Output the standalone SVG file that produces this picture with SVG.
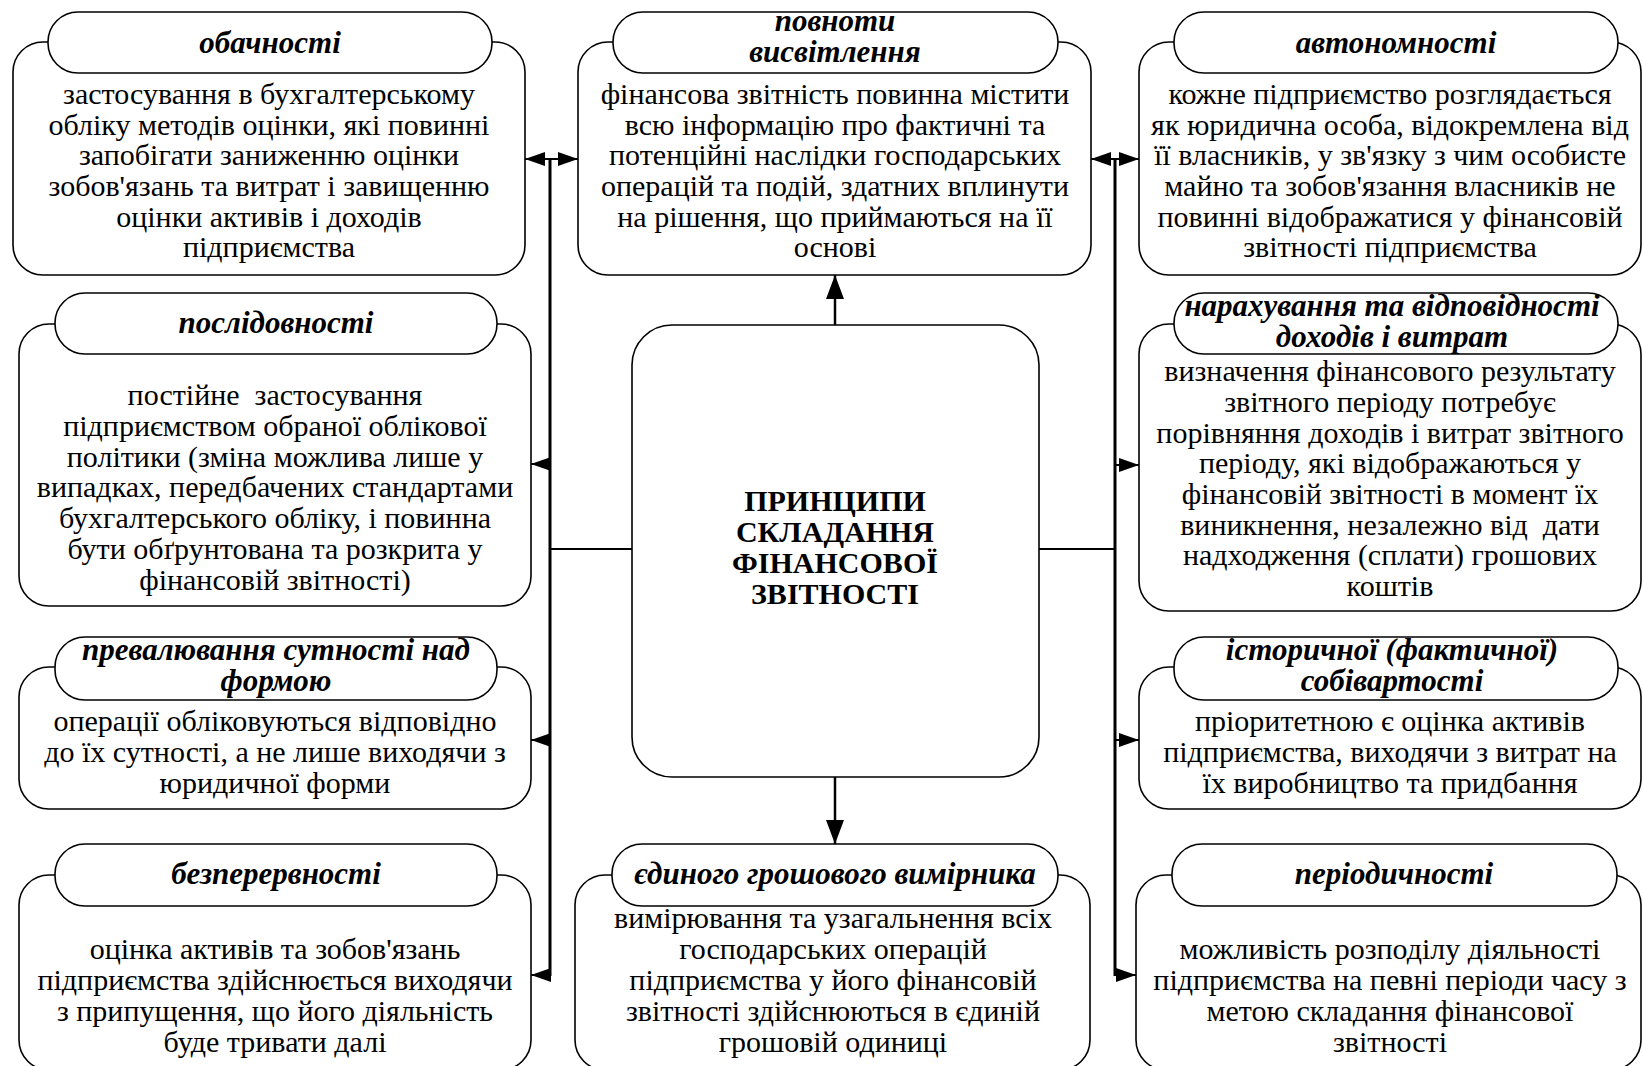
<svg xmlns="http://www.w3.org/2000/svg" width="1643" height="1066" viewBox="0 0 1643 1066">
<style>
.body{fill:#fff;stroke:#000;stroke-width:1.6}
.pill{fill:#fff;stroke:#000;stroke-width:1.6}
.hd{font-family:"Liberation Serif","Times New Roman",serif;font-size:31px;font-weight:bold;font-style:italic;text-anchor:middle;fill:#000}
.tx{font-family:"Liberation Serif","Times New Roman",serif;font-size:30px;text-anchor:middle;fill:#000;white-space:pre}
.ct{font-family:"Liberation Serif","Times New Roman",serif;font-size:30px;font-weight:bold;text-anchor:middle;fill:#000}
.bus{stroke:#000;stroke-width:3;fill:none}
.ln{stroke:#000;stroke-width:2;fill:none}
.ar{stroke:#000;stroke-width:2;fill:none;marker-end:url(#ah)}
.arb{stroke:#000;stroke-width:2.5;fill:none;marker-end:url(#ahb)}
</style>
<defs>
<marker id="ah" markerUnits="userSpaceOnUse" viewBox="0 0 20 14" markerWidth="20" markerHeight="14" refX="20" refY="7" orient="auto"><path d="M0,0 L20,7 L0,14 z" fill="#000"/></marker>
<marker id="ahb" markerUnits="userSpaceOnUse" viewBox="0 0 24 18" markerWidth="24" markerHeight="18" refX="24" refY="9" orient="auto"><path d="M0,0 L24,9 L0,18 z" fill="#000"/></marker>
</defs>
<rect width="1643" height="1066" fill="#fff"/>

<g id="connectors">
<line class="bus" x1="550" y1="159" x2="550" y2="976"/>
<line class="ar" x1="550" y1="159" x2="525" y2="159"/>
<line class="ar" x1="550" y1="159" x2="578" y2="159"/>
<line class="ar" x1="550" y1="464" x2="531" y2="464"/>
<line class="ar" x1="550" y1="740" x2="531" y2="740"/>
<line class="ar" x1="550" y1="975" x2="531" y2="975"/>
<line class="ln" x1="632" y1="549" x2="550" y2="549"/>
<line class="bus" x1="1115" y1="159" x2="1115" y2="976"/>
<line class="ar" x1="1115" y1="159" x2="1091" y2="159"/>
<line class="ar" x1="1115" y1="159" x2="1139" y2="159"/>
<line class="ar" x1="1115" y1="465" x2="1139" y2="465"/>
<line class="ar" x1="1115" y1="740" x2="1139" y2="740"/>
<line class="ar" x1="1115" y1="975" x2="1136" y2="975"/>
<line class="ln" x1="1039" y1="549" x2="1115" y2="549"/>
<line class="arb" x1="835" y1="325" x2="835" y2="275"/>
<line class="arb" x1="835" y1="777" x2="835" y2="844"/>
</g>

<g id="node-center">
<rect class="body" x="632" y="325" width="407" height="452" rx="40"/>
<text class="ct"><tspan x="835" y="511">ПРИНЦИПИ</tspan><tspan x="835" y="542">СКЛАДАННЯ</tspan><tspan x="835" y="573">ФІНАНСОВОЇ</tspan><tspan x="835" y="604">ЗВІТНОСТІ</tspan></text>
</g>

<g id="node-obachnosti">
<rect class="body" x="13" y="42" width="512" height="233" rx="30"/>
<rect class="pill" x="48" y="12" width="444" height="61" rx="30"/>
<text class="hd" x="270" y="53">обачності</text>
<text class="tx"><tspan x="269" y="104">застосування в бухгалтерському</tspan><tspan x="269" y="135">обліку методів оцінки, які повинні</tspan><tspan x="269" y="165">запобігати заниженню оцінки</tspan><tspan x="269" y="196">зобов'язань та витрат і завищенню</tspan><tspan x="269" y="227">оцінки активів і доходів</tspan><tspan x="269" y="257">підприємства</tspan></text>
</g>

<g id="node-povnoty">
<rect class="body" x="578" y="42" width="513" height="233" rx="30"/>
<rect class="pill" x="613" y="12" width="445" height="61" rx="30"/>
<text class="hd"><tspan x="835" y="31">повноти</tspan><tspan x="835" y="62">висвітлення</tspan></text>
<text class="tx"><tspan x="835" y="104">фінансова звітність повинна містити</tspan><tspan x="835" y="135">всю інформацію про фактичні та</tspan><tspan x="835" y="165">потенційні наслідки господарських</tspan><tspan x="835" y="196">операцій та подій, здатних вплинути</tspan><tspan x="835" y="227">на рішення, що приймаються на її</tspan><tspan x="835" y="257">основі</tspan></text>
</g>

<g id="node-avtonomnosti">
<rect class="body" x="1139" y="42" width="502" height="233" rx="30"/>
<rect class="pill" x="1174" y="12" width="444" height="61" rx="30"/>
<text class="hd" x="1396" y="53">автономності</text>
<text class="tx"><tspan x="1390" y="104">кожне підприємство розглядається</tspan><tspan x="1390" y="135">як юридична особа, відокремлена від</tspan><tspan x="1390" y="165">її власників, у зв'язку з чим особисте</tspan><tspan x="1390" y="196">майно та зобов'язання власників не</tspan><tspan x="1390" y="227">повинні відображатися у фінансовій</tspan><tspan x="1390" y="257">звітності підприємства</tspan></text>
</g>

<g id="node-poslidovnosti">
<rect class="body" x="19" y="324" width="512" height="282" rx="30"/>
<rect class="pill" x="55" y="293" width="442" height="61" rx="30"/>
<text class="hd" x="276" y="333">послідовності</text>
<text class="tx"><tspan x="275" y="405">постійне  застосування</tspan><tspan x="275" y="436">підприємством обраної облікової</tspan><tspan x="275" y="467">політики (зміна можлива лише у</tspan><tspan x="275" y="497">випадках, передбачених стандартами</tspan><tspan x="275" y="528">бухгалтерського обліку, і повинна</tspan><tspan x="275" y="559">бути обґрунтована та розкрита у</tspan><tspan x="275" y="590">фінансовій звітності)</tspan></text>
</g>

<g id="node-narakhuvannia">
<rect class="body" x="1139" y="324" width="502" height="287" rx="30"/>
<rect class="pill" x="1174" y="293" width="444" height="61" rx="30"/>
<text class="hd"><tspan x="1392" y="316">нарахування та відповідності</tspan><tspan x="1392" y="347">доходів і витрат</tspan></text>
<text class="tx"><tspan x="1390" y="381">визначення фінансового результату</tspan><tspan x="1390" y="412">звітного періоду потребує</tspan><tspan x="1390" y="443">порівняння доходів і витрат звітного</tspan><tspan x="1390" y="473">періоду, які відображаються у</tspan><tspan x="1390" y="504">фінансовій звітності в момент їх</tspan><tspan x="1390" y="535">виникнення, незалежно від  дати</tspan><tspan x="1390" y="565">надходження (сплати) грошових</tspan><tspan x="1390" y="596">коштів</tspan></text>
</g>

<g id="node-prevaliuvannia">
<rect class="body" x="19" y="667" width="512" height="142" rx="30"/>
<rect class="pill" x="55" y="637" width="442" height="63" rx="30"/>
<text class="hd"><tspan x="276" y="660">превалювання сутності над</tspan><tspan x="276" y="691">формою</tspan></text>
<text class="tx"><tspan x="275" y="731">операції обліковуються відповідно</tspan><tspan x="275" y="762">до їх сутності, а не лише виходячи з</tspan><tspan x="275" y="793">юридичної форми</tspan></text>
</g>

<g id="node-istorychnoi">
<rect class="body" x="1139" y="667" width="502" height="142" rx="30"/>
<rect class="pill" x="1174" y="637" width="444" height="63" rx="30"/>
<text class="hd"><tspan x="1392" y="660">історичної (фактичної)</tspan><tspan x="1392" y="691">собівартості</tspan></text>
<text class="tx"><tspan x="1390" y="731">пріоритетною є оцінка активів</tspan><tspan x="1390" y="762">підприємства, виходячи з витрат на</tspan><tspan x="1390" y="793">їх виробництво та придбання</tspan></text>
</g>

<g id="node-bezperervnosti">
<rect class="body" x="19" y="875" width="512" height="195" rx="30"/>
<rect class="pill" x="55" y="844" width="442" height="62" rx="30"/>
<text class="hd" x="276" y="884">безперервності</text>
<text class="tx"><tspan x="275" y="959">оцінка активів та зобов'язань</tspan><tspan x="275" y="990">підприємства здійснюється виходячи</tspan><tspan x="275" y="1021">з припущення, що його діяльність</tspan><tspan x="275" y="1052">буде тривати далі</tspan></text>
</g>

<g id="node-yedynoho">
<rect class="body" x="575" y="875" width="515" height="195" rx="30"/>
<rect class="pill" x="612" y="844" width="446" height="62" rx="30"/>
<text class="hd" x="835" y="884">єдиного грошового вимірника</text>
<text class="tx"><tspan x="833" y="928">вимірювання та узагальнення всіх</tspan><tspan x="833" y="959">господарських операцій</tspan><tspan x="833" y="990">підприємства у його фінансовій</tspan><tspan x="833" y="1021">звітності здійснюються в єдиній</tspan><tspan x="833" y="1052">грошовій одиниці</tspan></text>
</g>

<g id="node-periodychnosti">
<rect class="body" x="1136" y="875" width="505" height="195" rx="30"/>
<rect class="pill" x="1172" y="844" width="445" height="62" rx="30"/>
<text class="hd" x="1394" y="884">періодичності</text>
<text class="tx"><tspan x="1390" y="959">можливість розподілу діяльності</tspan><tspan x="1390" y="990">підприємства на певні періоди часу з</tspan><tspan x="1390" y="1021">метою складання фінансової</tspan><tspan x="1390" y="1052">звітності</tspan></text>
</g>
</svg>
